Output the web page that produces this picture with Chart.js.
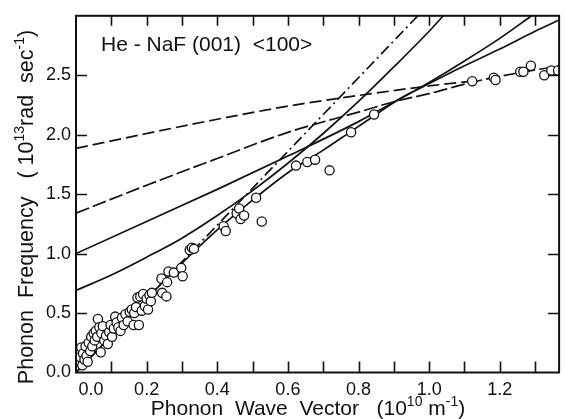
<!DOCTYPE html>
<html>
<head>
<meta charset="utf-8">
<script src="https://cdn.jsdelivr.net/npm/chart.js@4.4.1/dist/chart.umd.min.js"></script>
<style>
  html, body { margin: 0; padding: 0; background: #fff; }
  #wrap { width: 565px; height: 419px; }
</style>
</head>
<body>
<div id="wrap"><canvas id="c" width="565" height="419"></canvas></div>
<script>
// Measured He-NaF(001) <100> phonon points: [wave vector (1e10 m^-1), frequency (1e13 rad/s)]
const measuredPoints = [
  [0.005,0.09],[0.008,0.19],[0.012,0.13],[0.015,0.21],[0.018,0.06],[0.020,0.16],[0.024,0.11],
  [0.027,0.22],[0.030,0.14],[0.033,0.09],[0.036,0.25],[0.040,0.18],[0.043,0.30],[0.046,0.22],
  [0.050,0.33],[0.053,0.27],[0.056,0.35],[0.060,0.30],[0.062,0.45],[0.066,0.38],[0.070,0.17],
  [0.072,0.33],[0.076,0.39],[0.080,0.27],[0.085,0.31],[0.090,0.24],[0.094,0.34],[0.098,0.40],
  [0.102,0.30],[0.107,0.37],[0.111,0.47],[0.115,0.42],[0.120,0.38],[0.126,0.35],[0.130,0.46],
  [0.135,0.40],[0.140,0.49],[0.146,0.43],[0.152,0.51],[0.158,0.53],[0.163,0.40],[0.165,0.50],
  [0.170,0.55],[0.174,0.63],[0.178,0.40],[0.182,0.64],[0.186,0.52],[0.190,0.66],[0.195,0.56],
  [0.200,0.62],[0.204,0.53],[0.208,0.65],[0.212,0.60],[0.215,0.67],[0.242,0.79],[0.244,0.67],
  [0.256,0.64],[0.258,0.76],[0.262,0.85],[0.277,0.84],[0.298,0.88],[0.302,0.81],[0.322,1.03],
  [0.328,1.05],[0.334,1.04],[0.418,1.23],[0.424,1.19],[0.455,1.34],[0.462,1.38],[0.466,1.29],
  [0.476,1.32],[0.510,1.47],[0.526,1.27],[0.623,1.74],[0.655,1.77],[0.677,1.79],[0.718,1.70],
  [0.779,2.02],[0.844,2.17],[1.122,2.45],[1.183,2.48],[1.188,2.46],[1.258,2.53],[1.267,2.53],
  [1.288,2.58],[1.326,2.50],[1.346,2.54],[1.365,2.54]
];

// Solid curve through the data, continuing as a straight line to the right edge
const solidThroughData = [
  [0,0],[0.1,0.31],[0.2,0.62],[0.3,0.92],[0.4,1.20],[0.5,1.45],[0.6,1.68],[0.7,1.87],
  [0.78,2.03],[0.85,2.17],[0.91,2.29],[1.0,2.43],[1.1,2.58],[1.2,2.72],[1.3,2.87],[1.368,2.965]
];
// Solid scan curve starting at 0.69
const solidScanLow = [
  [0,0.69],[0.1,0.82],[0.2,0.97],[0.3,1.13],[0.4,1.32],[0.5,1.53],[0.6,1.76],[0.7,2.01],
  [0.8,2.28],[0.9,2.57],[1.0,2.87],[1.04,3.0]
];
// Solid scan curve starting at 1.0
const solidScanHigh = [
  [0,1.0],[0.2,1.27],[0.4,1.54],[0.6,1.82],[0.8,2.11],[0.91,2.29],[1.0,2.44],[1.1,2.62],
  [1.2,2.81],[1.29,3.0]
];
// Dashed curve starting at 1.34, running into the high-q data
const dashedLower = [
  [0,1.34],[0.2,1.575],[0.4,1.80],[0.6,2.02],[0.8,2.19],[0.91,2.285],[1.0,2.345],[1.12,2.44],
  [1.2,2.49],[1.3,2.545],[1.368,2.575]
];
// Dashed curve starting at 1.885
const dashedUpper = [
  [0,1.885],[0.2,2.01],[0.4,2.13],[0.6,2.24],[0.8,2.33],[1.0,2.41],[1.12,2.45]
];
// Dash-dot straight line from the origin
const dashDotLine = [[0,0],[0.968,3.0]];

// Axis ticks and labels (the first x label is padded so it clears the y label)
const xTickValues = [0,0.1,0.2,0.3,0.4,0.5,0.6,0.7,0.8,0.9,1.0,1.1,1.2,1.3];
const xTickLabels = ['      0.0','','0.2','','0.4','','0.6','','0.8','','1.0','','1.2',''];
const yTickValues = [0,0.5,1.0,1.5,2.0,2.5,3.0];
const yTickLabels = ['0.0','0.5','1.0','1.5','2.0','2.5',''];

const panelLabel = 'He - NaF (001)  <100>';
const xTitleParts = [['Phonon  Wave  Vector   (10',0],['10',1],[' m',0],['-1',1],[')',0]];
const yTitleParts = [['Phonon  Frequency   ( 10',0],['13',1],['rad  sec',0],['-1',1],[')',0]];

const FONT = '"Liberation Sans", Arial, sans-serif';
const INK = '#111';

const toXY = arr => arr.map(p => ({x: p[0], y: p[1]}));

function lineSet(data, dash, order) {
  return {
    type: 'line', data: toXY(data), borderColor: INK, borderWidth: 1.7,
    borderDash: dash, pointRadius: 0, fill: false, tension: 0,
    cubicInterpolationMode: 'monotone', order: order
  };
}

// Draws text made of normal and superscript pieces, centred on (cx, baseline y)
function drawRich(ctx, parts, cx, y, size) {
  const supSize = Math.round(size * 0.66);
  let total = 0;
  parts.forEach(([t, sup]) => {
    ctx.font = (sup ? supSize : size) + 'px ' + FONT;
    total += ctx.measureText(t).width;
  });
  let x = cx - total / 2;
  ctx.textAlign = 'left';
  ctx.textBaseline = 'alphabetic';
  parts.forEach(([t, sup]) => {
    ctx.font = (sup ? supSize : size) + 'px ' + FONT;
    ctx.fillText(t, x, sup ? y - size * 0.42 : y);
    x += ctx.measureText(t).width;
  });
}

const framePlugin = {
  id: 'framePlugin',
  afterDraw(chart) {
    const {ctx, chartArea: a, scales} = chart;
    const xs = scales.x, ys = scales.y;
    ctx.save();
    ctx.strokeStyle = INK;
    // inward tick marks on all four sides
    ctx.lineWidth = 1.6;
    ctx.beginPath();
    xTickValues.forEach(v => {
      const px = Math.round(xs.getPixelForValue(v)) + 0.5;
      if (v > 0) {
        ctx.moveTo(px, a.bottom); ctx.lineTo(px, a.bottom - 11);
        ctx.moveTo(px, a.top); ctx.lineTo(px, a.top + 10);
      }
    });
    yTickValues.forEach(v => {
      const py = Math.round(ys.getPixelForValue(v)) + 0.5;
      if (v > 0 && v < 3) {
        ctx.moveTo(a.left, py); ctx.lineTo(a.left + 11, py);
        ctx.moveTo(a.right, py); ctx.lineTo(a.right - 11, py);
      }
    });
    ctx.stroke();
    // frame
    ctx.lineWidth = 2;
    ctx.strokeRect(a.left, a.top, a.right - a.left, a.bottom - a.top);

    ctx.fillStyle = INK;
    // panel label
    ctx.font = '21px ' + FONT;
    ctx.textAlign = 'left';
    ctx.textBaseline = 'alphabetic';
    ctx.fillText(panelLabel, 101, 51);
    // axis titles
    drawRich(ctx, xTitleParts, 308, 415, 21);
    ctx.translate(33, 207);
    ctx.rotate(-Math.PI / 2);
    drawRich(ctx, yTitleParts, 0, 0, 21.5);
    ctx.restore();
  }
};

new Chart(document.getElementById('c'), {
  type: 'scatter',
  data: {
    datasets: [
      {
        type: 'scatter', data: toXY(measuredPoints), pointStyle: 'circle',
        pointRadius: 4.6, pointBackgroundColor: '#fff', pointBorderColor: INK,
        pointBorderWidth: 1.3, order: 0
      },
      lineSet(solidThroughData, [], 1),
      lineSet(solidScanLow, [], 1),
      lineSet(solidScanHigh, [], 1),
      lineSet(dashedLower, [14, 4], 1),
      lineSet(dashedUpper, [12, 5], 1),
      Object.assign(lineSet(dashDotLine, [11, 4, 2, 4], 1), {cubicInterpolationMode: 'default'})
    ]
  },
  options: {
    responsive: false,
    animation: false,
    devicePixelRatio: 1,
    layout: { padding: { top: 12, right: 1, left: 0, bottom: 0 } },
    plugins: { legend: { display: false }, tooltip: { enabled: false } },
    scales: {
      x: {
        type: 'linear', min: 0, max: 1.368,
        grid: { display: false, drawTicks: false },
        border: { display: false },
        afterBuildTicks: s => { s.ticks = xTickValues.map(v => ({value: v})); },
        afterFit: s => { s.height = 46.5; },
        ticks: {
          autoSkip: false, maxRotation: 0, padding: 7, color: INK,
          font: { family: FONT, size: 18 },
          callback: (v) => xTickLabels[xTickValues.findIndex(t => Math.abs(t - v) < 1e-6)] ?? ''
        }
      },
      y: {
        type: 'linear', min: 0, max: 3.0,
        grid: { display: false, drawTicks: false },
        border: { display: false },
        afterBuildTicks: s => { s.ticks = yTickValues.map(v => ({value: v})); },
        afterFit: s => { s.width = 76; },
        ticks: {
          autoSkip: false, padding: 5, color: INK,
          font: { family: FONT, size: 18 },
          callback: (v) => yTickLabels[yTickValues.findIndex(t => Math.abs(t - v) < 1e-6)] ?? ''
        }
      }
    }
  },
  plugins: [framePlugin]
});
</script>
</body>
</html>
